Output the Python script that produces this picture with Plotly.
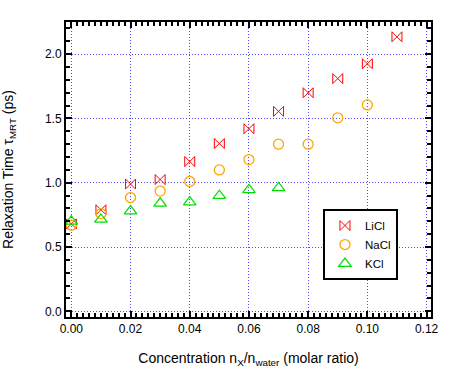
import plotly.graph_objects as go

x_licl = [0.00, 0.01, 0.02, 0.03, 0.04, 0.05, 0.06, 0.07, 0.08, 0.09, 0.10, 0.11]
y_licl = [0.68, 0.79, 0.99, 1.025, 1.165, 1.305, 1.42, 1.555, 1.70, 1.81, 1.925, 2.135]
x_nacl = [0.00, 0.01, 0.02, 0.03, 0.04, 0.05, 0.06, 0.07, 0.08, 0.09, 0.10]
y_nacl = [0.67, 0.76, 0.885, 0.935, 1.01, 1.10, 1.18, 1.30, 1.30, 1.505, 1.605]
x_kcl = [0.00, 0.01, 0.02, 0.03, 0.04, 0.05, 0.06, 0.07]
y_kcl = [0.70, 0.715, 0.78, 0.84, 0.85, 0.90, 0.945, 0.96]

x_ticks = [0.00, 0.02, 0.04, 0.06, 0.08, 0.10, 0.12]
y_ticks = [0.0, 0.5, 1.0, 1.5, 2.0]

font = "Liberation Sans, Arial, sans-serif"
fig = go.Figure()
fig.add_trace(go.Scatter(x=x_licl, y=y_licl, mode="markers", name="LiCl",
                         marker=dict(symbol="bowtie-open", size=10, color="#ff0000", line=dict(width=1))))
fig.add_trace(go.Scatter(x=x_nacl, y=y_nacl, mode="markers", name="NaCl",
                         marker=dict(symbol="circle-open", size=10, color="#ffa500", line=dict(width=1.3))))
fig.add_trace(go.Scatter(x=x_kcl, y=y_kcl, mode="markers", name="KCl",
                         marker=dict(symbol="triangle-up-open", size=11, color="#00e000", line=dict(width=1.2))))

axis_common = dict(showline=True, linecolor="black", linewidth=2, mirror="allticks",
                   ticks="inside", ticklen=6, tickwidth=1.5, tickcolor="black",
                   showgrid=True, gridcolor="#4a4aff", griddash="1px,2px", gridwidth=1,
                   zeroline=False, automargin=False,
                   tickfont=dict(family=font, size=12, color="black"))

fig.update_layout(
    width=454, height=369,
    margin=dict(l=66, r=23, t=22, b=52),
    paper_bgcolor="white", plot_bgcolor="white",
    font=dict(family=font, size=12, color="black"),
    showlegend=True,
    legend=dict(x=0.704, y=0.366, xanchor="left", yanchor="top",
                bgcolor="white", bordercolor="black", borderwidth=2,
                font=dict(family=font, size=11.5, color="black"),
                itemwidth=30, tracegroupgap=0),
    xaxis=dict(range=[-0.0018, 0.1215], tickvals=x_ticks,
               ticktext=[f"{v:.2f}" for v in x_ticks],
               minor=dict(dtick=0.002, tick0=0, ticks="inside", ticklen=4, tickcolor="black", showgrid=False),
               title=dict(text="Concentration n<sub>X</sub>/n<sub>water</sub> (molar ratio)",
                          font=dict(family=font, size=14, color="black"), standoff=18),
               **axis_common),
    yaxis=dict(range=[-0.044, 2.25], tickvals=y_ticks,
               ticktext=[f"{v:.1f}" for v in y_ticks],
               minor=dict(dtick=0.1, tick0=0, ticks="inside", ticklen=4, tickcolor="black", showgrid=False),
               title=dict(text="Relaxation Time τ<sub>MRT</sub> (ps)",
                          font=dict(family=font, size=14, color="black"), standoff=28),
               **axis_common),
)

fig.write_html("out.html", config={"displayModeBar": False},
               post_script="document.body.style.margin='0';document.body.style.overflow='hidden';")
